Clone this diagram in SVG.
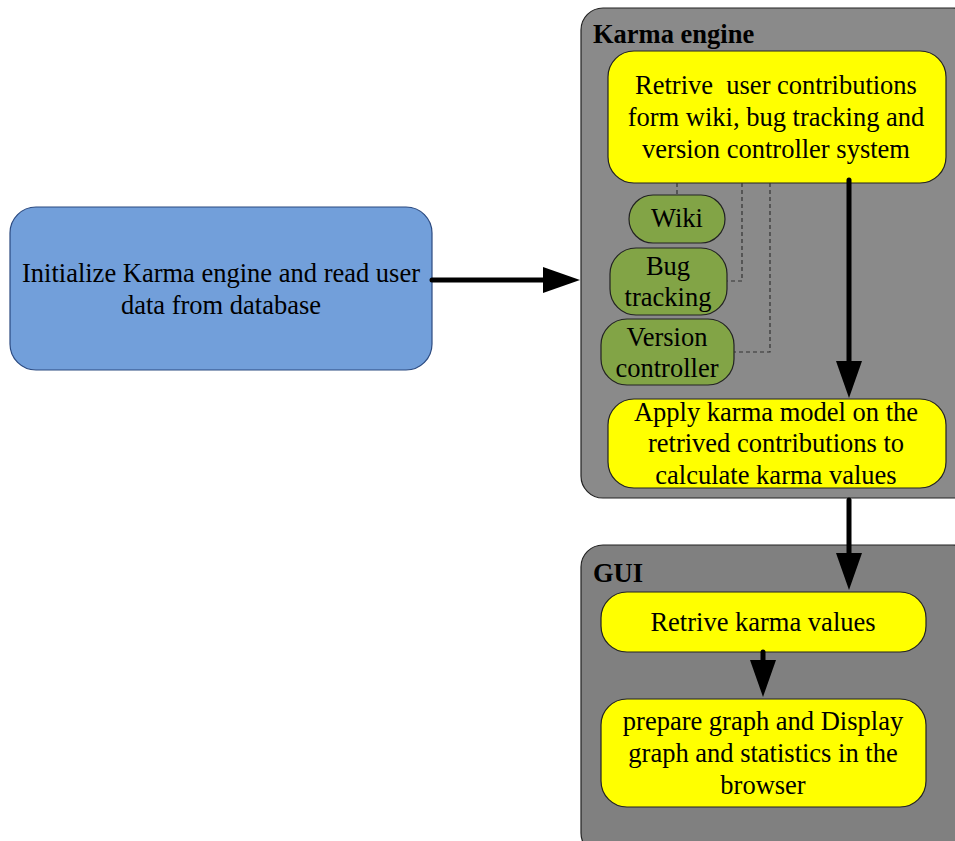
<svg xmlns="http://www.w3.org/2000/svg" width="955" height="841" viewBox="0 0 955 841">
  <style>
    text { font-family: "Liberation Serif", "Times New Roman", serif; font-size: 26.5px; fill: #000; text-anchor: middle; }
    .title { font-weight: bold; text-anchor: start; }
    .container { stroke: #222; stroke-width: 1.2; }
    .step { fill: #ffff00; stroke: #222; stroke-width: 1.2; }
    .source { fill: #82a446; stroke: #222; stroke-width: 1.2; }
    .flow { stroke: #000; stroke-width: 5; fill: none; stroke-linecap: round; }
    .link { stroke: #333; stroke-width: 1.2; fill: none; stroke-dasharray: 4 3; }
  </style>
  <defs>
    <marker id="head" markerUnits="userSpaceOnUse" markerWidth="37" markerHeight="26" refX="27" refY="13" viewBox="0 0 37 26" orient="auto">
      <path d="M0,0 L37,13 L0,26 Z" fill="#000"/>
    </marker>
  </defs>

  <!-- containers -->
  <g id="karma-engine">
    <rect class="container" x="581" y="8" width="394" height="490" rx="22" fill="#8a8a8a"/>
    <text class="title" x="593" y="43">Karma engine</text>
  </g>
  <g id="gui">
    <rect class="container" x="581" y="545" width="394" height="310" rx="22" fill="#808080"/>
    <text class="title" x="593" y="582">GUI</text>
  </g>

  <!-- start node -->
  <g id="init">
    <rect x="10" y="207" width="422" height="163" rx="26" fill="#729fda" stroke="#2b4a80" stroke-width="1.2"/>
    <text x="221" y="282">Initialize Karma engine and read user</text>
    <text x="221" y="314">data from database</text>
  </g>

  <g id="retrieve">
    <rect class="step" x="608" y="51" width="338" height="132" rx="26"/>
    <text x="776" y="94">Retrive &#160;user contributions</text>
    <text x="776" y="126">form wiki, bug tracking and</text>
    <text x="776" y="158">version controller system</text>
  </g>

  <g id="wiki">
    <rect class="source" x="629" y="195" width="96" height="48" rx="24"/>
    <text x="677" y="227">Wiki</text>
  </g>
  <g id="bug-tracking">
    <rect class="source" x="610" y="248" width="117" height="67" rx="26"/>
    <text x="668" y="275">Bug</text>
    <text x="668" y="306">tracking</text>
  </g>
  <g id="version-controller">
    <rect class="source" x="601" y="319" width="133" height="66" rx="26"/>
    <text x="667" y="346">Version</text>
    <text x="667" y="377">controller</text>
  </g>

  <g id="apply">
    <rect class="step" x="608" y="399" width="338" height="89" rx="26"/>
    <text x="776" y="421">Apply karma model on the</text>
    <text x="776" y="452">retrived contributions to</text>
    <text x="776" y="484">calculate karma values</text>
  </g>

  <g id="retrieve-karma">
    <rect class="step" x="601" y="592" width="325" height="60" rx="26"/>
    <text x="763" y="631">Retrive karma values</text>
  </g>

  <g id="display">
    <rect class="step" x="601" y="699" width="325" height="108" rx="26"/>
    <text x="763" y="730">prepare graph and Display</text>
    <text x="763" y="762">graph and statistics in the</text>
    <text x="763" y="794">browser</text>
  </g>

  <!-- connectors -->
  <g id="connectors">
    <path class="flow" d="M432,280 H570" marker-end="url(#head)"/>
    <path class="flow" d="M849,180 V388" marker-end="url(#head)"/>
    <path class="flow" d="M849,500 V580" marker-end="url(#head)"/>
    <path class="flow" d="M763,652 V687" marker-end="url(#head)"/>
    <path class="link" d="M677,183 V195"/>
    <path class="link" d="M742,183 V281 H727"/>
    <path class="link" d="M770,183 V352 H734"/>
  </g>
</svg>
